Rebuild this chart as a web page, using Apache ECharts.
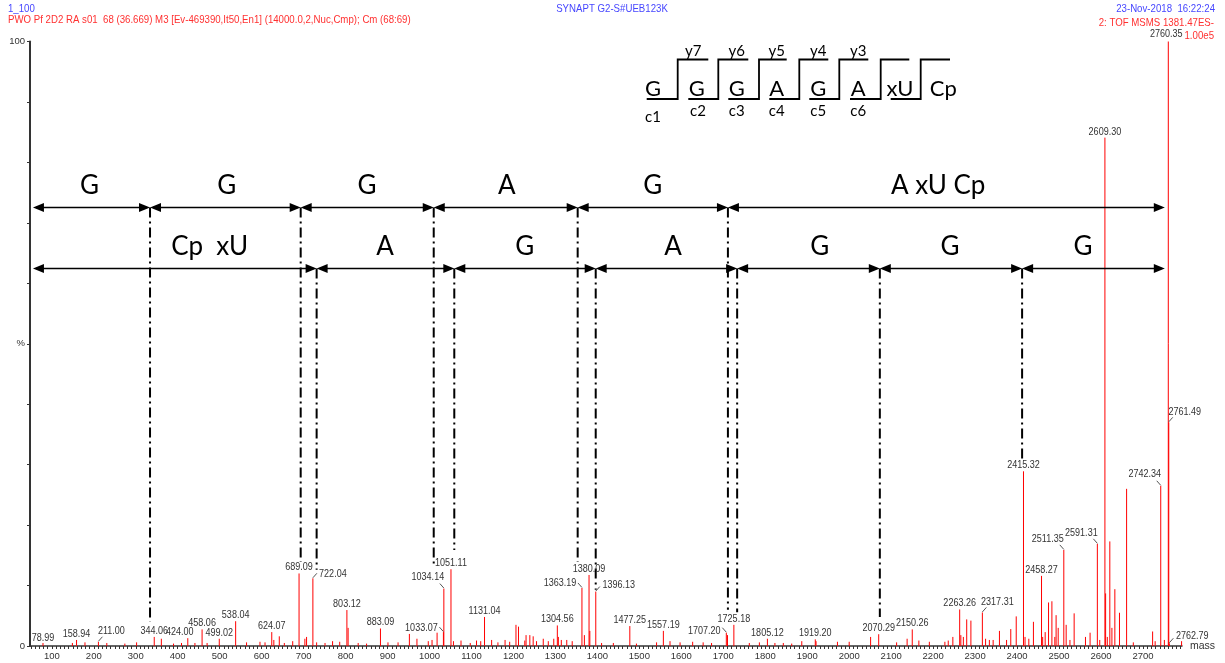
<!DOCTYPE html>
<html><head><meta charset="utf-8">
<script src="https://cdn.jsdelivr.net/npm/echarts@6/dist/echarts.min.js"></script>
<style>html,body{margin:0;padding:0;background:#fff}#c{width:1225px;height:663px}</style>
</head><body><div id="c"></div>
<script>
// ---------------- DATA ----------------
const xTickLabels = [100,200,300,400,500,600,700,800,900,1000,1100,1200,1300,1400,1500,1600,1700,1800,1900,2000,2100,2200,2300,2400,2500,2600,2700];

// labelled peaks (m/z, relative intensity %)
const labeledMass = [78.99,158.94,211.00,344.06,424.00,458.06,499.02,538.04,624.07,689.09,722.04,803.12,883.09,1033.07,1034.14,1051.11,1131.04,1304.56,1363.19,1380.09,1396.13,1477.25,1557.19,1707.20,1725.18,1805.12,1919.20,2070.29,2150.26,2263.26,2317.31,2415.32,2458.27,2511.35,2591.31,2609.30,2742.34,2760.35,2761.49,2762.79];
const labeledIntensity = [0.5,1.0,0.7,1.5,1.3,2.75,1.2,4.1,2.3,12.0,11.2,5.95,2.9,2.3,9.5,12.7,4.8,3.4,9.6,11.75,9.0,3.3,2.5,2.2,3.5,1.2,1.1,1.95,2.75,6.05,5.55,28.9,11.6,15.9,16.9,84.1,26.5,100,37.0,0.45];

// unlabelled peaks
const minorMass = [149,179,231,274,302,361,390,409,441,470,564,596,608,629,642,654,674,703,707,731,751,769,786,806,830,850,901,925,952,970,997,1006,1018,1057,1075,1097,1112,1122,1148,1163,1180,1191,1206,1212,1227,1230,1239,1247,1255,1271,1283,1296,1307,1314,1327,1340,1369,1382,1410,1438,1493,1541,1573,1597,1627,1652,1672,1710,1762,1786,1823,1843,1863,1887,1921,1972,2000,2051,2113,2138,2166,2191,2228,2236,2247,2266,2272,2280,2290,2325,2334,2343,2358,2375,2385,2398,2419,2428,2439,2461,2467,2475,2483,2490,2493,2498,2517,2526,2536,2563,2574,2597,2611,2615,2621,2626,2633,2644,2661,2677,2723,2729,2751,2792];
const minorIntensity = [0.5,0.6,0.5,0.4,0.6,1.2,0.4,0.5,0.5,0.5,0.6,0.7,0.6,1.0,1.6,0.5,0.8,1.2,1.5,0.6,0.5,0.8,0.7,3.0,0.5,0.4,0.6,0.6,2.0,1.2,0.8,1.0,2.2,0.8,0.9,0.5,0.9,0.8,1.0,0.6,1.0,0.7,3.5,3.2,0.9,1.8,1.8,1.6,0.8,1.2,0.8,1.2,1.5,1.0,1.0,0.8,1.8,2.5,0.5,0.5,0.4,0.6,0.8,0.6,0.7,0.6,0.5,1.8,0.5,0.6,0.5,0.5,0.4,0.8,0.8,0.7,0.7,1.5,0.6,1.2,0.9,0.7,0.7,0.9,1.5,1.8,1.5,4.4,4.2,1.2,1.0,1.0,2.5,1.0,2.8,4.9,1.5,1.2,4.0,1.5,2.3,7.2,7.4,1.5,5.1,3.0,3.5,1.0,5.4,1.5,2.2,1.0,8.7,1.5,17.3,3.0,9.4,5.5,26.0,0.6,2.4,0.8,1.0,0.8];

// fragment ladders (mass boundaries) and their labels
const upperBounds = [55,334,693,1010,1353,1711,2752];
const upperLabels = ['G','G','G','A','G','A xU Cp'];
const upperLabelMass = [190,517,851,1184,1532,2212];
const upperDropTo = [4.0,13.9,13.0,13.9,6.0];
const lowerBounds = [55,731,1059,1396,1733,2073,2412,2752];
const lowerLabels = ['Cp  xU','A','G','A','G','G','G'];
const lowerLabelMass = [476,894,1227,1580,1930,2240,2557];
const lowerDropTo = [12.6,15.9,9.3,5.6,4.8,31.0];

// sequence scheme
const seqLetters = ['G','G','G','A','G','A','xU','Cp'];
const yIons = ['y7','y6','y5','y4','y3'];
const cIons = ['c1','c2','c3','c4','c5','c6'];

// ---------------- STYLE ----------------
const PEAK_COLOR = '#ff0000';
const SANS = '"Liberation Sans", Arial, sans-serif';
const LABEL_FONT = '10.5px ' + SANS;
const SQUEEZE = 0.86;
const BIG_FONT = '26px Lato, "Open Sans", sans-serif';
const ROW = {upper: 72.6, lower: 62.5, upperText: 76.2, lowerText: 66.1};
const labelPlacement = {
  '78.99': {dx:0, dy:-5},
  '211.00': {dx:13, dy:-11, lead:1},
  '424.00': {dx:-8, dy:-6},
  '722.04': {dx:20, dy:-4, lead:1},
  '1033.07': {dx:-22, dy:-4, lead:-1},
  '1034.14': {dx:-16, dy:-11, lead:-1},
  '1363.19': {dx:-22, dy:-5, lead:-1},
  '1396.13': {dx:23, dy:-6, lead:1},
  '1707.20': {dx:-22, dy:-2, lead:-1},
  '2317.31': {dx:15, dy:-10, lead:1},
  '2511.35': {dx:-16, dy:-11, lead:-1},
  '2591.31': {dx:-16, dy:-11, lead:-1},
  '2742.34': {dx:-16, dy:-12, lead:-1},
  '2760.35': {dx:-2, dy:-7},
  '2761.49': {dx:16, dy:-10, lead:1},
  '2762.79': {dx:23, dy:-7, lead:1}
};

// ---------------- BUILD ----------------
const peakData = [];
minorMass.forEach((m,i)=>peakData.push([m, minorIntensity[i]]));
labeledMass.forEach((m,i)=>peakData.push([m, labeledIntensity[i]]));
const labelData = labeledMass.map((m,i)=>[m, labeledIntensity[i], i]);
const annData = [];
upperBounds.slice(0,-1).forEach((m,i)=>annData.push([m, upperBounds[i+1], 0, i]));
lowerBounds.slice(0,-1).forEach((m,i)=>annData.push([m, lowerBounds[i+1], 1, i]));

const minorTicks = [];
for (let v = 50; v <= 2790; v += 10) minorTicks.push(v);

function renderPeak(params, api){
  const m = api.value(0), h = api.value(1);
  const b = api.coord([m,0]), t = api.coord([m,h]);
  return {type:'line', shape:{x1:b[0],y1:b[1],x2:t[0],y2:t[1]}, style:{stroke:PEAK_COLOR, lineWidth:1}};
}
function renderLabel(params, api){
  const m = api.value(0), h = api.value(1), li = api.value(2);
  const t = api.coord([m,h]);
  const txt = labeledMass[li].toFixed(2);
  const st = labelPlacement[txt] || {dx:0, dy:-6};
  const children = [];
  if (st.lead) children.push({type:'line', shape:{x1:t[0], y1:t[1]-0.5, x2:t[0]+st.lead*4, y2:t[1]-5}, style:{stroke:'#555', lineWidth:1}});
  children.push({type:'text', x:t[0]+st.dx, y:t[1]+st.dy, scaleX:SQUEEZE, style:{text:txt, x:0, y:0, align:'center', verticalAlign:'middle', font:LABEL_FONT, fill:'#333'}});
  return {type:'group', children};
}
function renderAnn(params, api){
  const m1 = api.value(0), m2 = api.value(1), row = api.value(2), i = api.value(3);
  const yPct = row === 0 ? ROW.upper : ROW.lower;
  const tPct = row === 0 ? ROW.upperText : ROW.lowerText;
  const p1 = api.coord([m1, yPct]), p2 = api.coord([m2, yPct]);
  const y = Math.round(p1[1]) + 0.5;
  const x1 = p1[0], x2 = p2[0];
  const ch = [];
  ch.push({type:'line', shape:{x1:x1+3, y1:y, x2:x2-3, y2:y}, style:{stroke:'#000', lineWidth:1.5}});
  ch.push({type:'polygon', shape:{points:[[x1,y],[x1+11,y-4.5],[x1+11,y+4.5]]}, style:{fill:'#000'}});
  ch.push({type:'polygon', shape:{points:[[x2,y],[x2-11,y-4.5],[x2-11,y+4.5]]}, style:{fill:'#000'}});
  const lm = row === 0 ? upperLabelMass[i] : lowerLabelMass[i];
  const lt = row === 0 ? upperLabels[i] : lowerLabels[i];
  const lp = api.coord([lm, tPct]);
  ch.push({type:'text', style:{text:lt, x:lp[0], y:lp[1], align:'center', verticalAlign:'middle', font:BIG_FONT, fill:'#000'}});
  if (i > 0) {
    const drop = row === 0 ? upperDropTo[i-1] : lowerDropTo[i-1];
    const pd = api.coord([m1, drop]);
    ch.push({type:'line', shape:{x1:x1, y1:y, x2:x1, y2:pd[1]}, style:{stroke:'#000', lineWidth:2, lineDash:[10,4,2,4]}});
  }
  return {type:'group', children:ch};
}

// sequence scheme graphic (decorative layout)
const stepBottomStart = [646.7,688.3,728.3,769.3,809.3,850,890.7];
const stepRise = [677.7,718.3,759,799.3,839.3,880.7,920.7];
const stepTopEnd = [708.3,748.3,786.7,828.3,868.3,909.3,950];
const seqX = [653,696.7,736.7,776.7,818.3,858.3,900,943.3];
const yIonX = [693.3,736.7,776.7,818.3,858.3];
const cIonX = [653,698,736.7,776.7,818.3,858.3];
const schemeEls = [];
stepRise.forEach((vx,i)=>{
  schemeEls.push({type:'polyline', shape:{points:[[stepBottomStart[i],99],[vx,99],[vx,59.5],[stepTopEnd[i],59.5]]}, style:{stroke:'#000', lineWidth:1.8, fill:null}});
});
seqLetters.forEach((s,i)=>schemeEls.push({type:'text', style:{text:s, x:seqX[i], y:89, align:'center', verticalAlign:'middle', font:'22px Lato, "Open Sans", sans-serif', fill:'#000'}}));
yIons.forEach((s,i)=>schemeEls.push({type:'text', style:{text:s, x:yIonX[i], y:51, align:'center', verticalAlign:'middle', font:'15px Lato, "Open Sans", sans-serif', fill:'#000'}}));
cIons.forEach((s,i)=>schemeEls.push({type:'text', style:{text:s, x:cIonX[i], y:i===0?117:111, align:'center', verticalAlign:'middle', font:'15px Lato, "Open Sans", sans-serif', fill:'#000'}}));

const HF = '11.5px ' + SANS;
function hText(text, x, y, align, fill){
  return {type:'text', x:x, y:y, scaleX:0.84, style:{text, x:0, y:0, align, verticalAlign:'middle', font:HF, fill}};
}
const headerEls = [
  hText('1_100', 8, 9, 'left', '#4646ff'),
  hText('PWO Pf 2D2 RA s01  68 (36.669) M3 [Ev-469390,It50,En1] (14000.0,2,Nuc,Cmp); Cm (68:69)', 8, 20, 'left', '#ff3030'),
  hText('SYNAPT G2-S#UEB123K', 612, 9, 'center', '#4646ff'),
  hText('23-Nov-2018  16:22:24', 1215, 9, 'right', '#4646ff'),
  hText('2: TOF MSMS 1381.47ES-', 1214, 23, 'right', '#ff3030'),
  hText('1.00e5', 1214, 35.5, 'right', '#ff3030')
];

const chart = echarts.init(document.getElementById('c'), null, {renderer:'canvas'});
chart.setOption({
  animation:false,
  backgroundColor:'#fff',
  grid:{left:30, right:43, top:41.5, bottom:17, containLabel:false},
  xAxis:{
    type:'value', min:48, max:2793,
    axisLine:{show:true, onZero:false, lineStyle:{color:'#333', width:1.5}},
    axisTick:{show:true, customValues:minorTicks, length:3, lineStyle:{color:'#333', width:1}},
    axisLabel:{customValues:xTickLabels, formatter:v=>String(v), color:'#333', fontSize:9.5, margin:5, fontFamily:SANS},
    splitLine:{show:false},
    name:'mass', nameLocation:'end', nameGap:8,
    nameTextStyle:{color:'#333', fontSize:10.5, fontFamily:SANS, verticalAlign:'middle', padding:[4,0,0,0]}
  },
  yAxis:{
    type:'value', min:0, max:100, interval:10,
    axisLine:{show:true, lineStyle:{color:'#333', width:2}},
    axisTick:{show:true, length:3, lineStyle:{color:'#333'}},
    axisLabel:{color:'#333', fontSize:9.5, margin:5, fontFamily:SANS,
      formatter:v=> v===100?'100':(v===0?'0':(v===50?'%':''))},
    splitLine:{show:false}
  },
  graphic:[...headerEls, ...schemeEls],
  series:[
    {type:'custom', name:'peaks', data:peakData, encode:{x:0,y:1}, renderItem:renderPeak, z:3, silent:true},
    {type:'custom', name:'ladder', data:annData, encode:{x:0}, renderItem:renderAnn, z:4, silent:true},
    {type:'custom', name:'labels', data:labelData, encode:{x:0,y:1}, renderItem:renderLabel, z:5, silent:true}
  ]
});
</script>
</body></html>
